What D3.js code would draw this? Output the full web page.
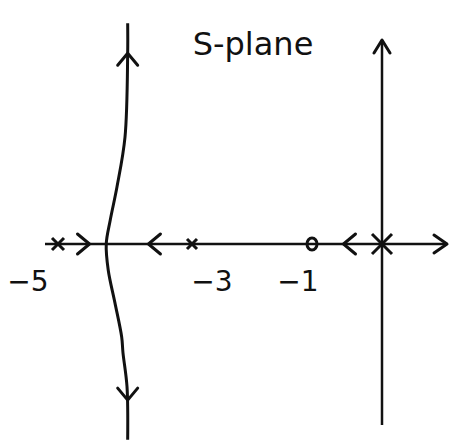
<!DOCTYPE html>
<html>
<head>
<meta charset="utf-8">
<script src="https://cdn.jsdelivr.net/npm/d3@7"></script>
<style>
  body { margin: 0; background: #fff; }
</style>
</head>
<body>
<script>
// sketch of a root locus in the s-plane

var width = 451, height = 445;

// poles, zeros and tick labels on the real axis
var poles = [-5, -3, 0];
var zeros = [-1];
var tickValues = [-5, -3, -1];
var tickLabels = ["\u22125", "\u22123", "\u22121"];

var branchSigma = [-3.96, -3.96, -4.0, -4.12, -4.22, -4.28, -4.25, -4.15, -4.05, -4.03, -3.97, -3.96];
var branchOmega = [3.45, 2.98, 1.67, 0.89, 0.375, 0, -0.41, -0.92, -1.45, -1.70, -2.23, -3.06];

// direction arrows: position and direction
var realArrowSigma = [-4.53, -3.65, -0.55];
var realArrowDir = [1, -1, -1];
var branchArrowOmega = [2.98, -2.44];
var branchArrowDir = [1, -1];

// hand-drawn sketch is not evenly spaced, so piecewise scale
var xScale = d3.scaleLinear()
    .domain([-5, -3, -1, 0])
    .range([58, 192, 312, 382]);

var yScale = d3.scaleLinear()
    .domain([-3, 3])
    .range([244 + 192, 244 - 192]);

var svg = d3.select("body").append("svg")
    .attr("width", width)
    .attr("height", height);

var ink = "#111";

// real axis
svg.append("line")
    .attr("x1", 45).attr("x2", 446)
    .attr("y1", yScale(0)).attr("y2", yScale(0))
    .style("stroke", ink).style("stroke-width", 2.5);

// imaginary axis
svg.append("line")
    .attr("x1", xScale(0)).attr("x2", xScale(0))
    .attr("y1", 425).attr("y2", 40)
    .style("stroke", ink).style("stroke-width", 2.5);

// chevron helper: tip at (x,y), dx/dy direction
function chevron(x, y, dx, dy, len, spread) {
    var bx = x - dx * len, by = y - dy * len;
    var px = -dy * spread, py = dx * spread;
    return "M" + (bx + px) + "," + (by + py) + "L" + x + "," + y + "L" + (bx - px) + "," + (by - py);
}

var arrows = svg.append("g").attr("id", "arrows")
    .style("fill", "none").style("stroke", ink)
    .style("stroke-width", 3).style("stroke-linecap", "round").style("stroke-linejoin", "round");

// axis arrowheads
arrows.append("path").attr("d", chevron(447, yScale(0), 1, 0, 13, 9));
arrows.append("path").attr("d", chevron(xScale(0), 40, 0, -1, 13, 8));

// arrows along the real axis
realArrowSigma.forEach(function(s, i) {
    arrows.append("path")
        .attr("d", chevron(xScale(s), yScale(0), realArrowDir[i], 0, 12, 10));
});

// locus branch
var branch = branchSigma.map(function(s, i) { return [s, branchOmega[i]]; });
var line = d3.line()
    .x(function(d) { return xScale(d[0]); })
    .y(function(d) { return yScale(d[1]); })
    .curve(d3.curveCatmullRom);

svg.append("path")
    .datum(branch)
    .attr("d", line)
    .style("fill", "none").style("stroke", ink).style("stroke-width", 3);

branchArrowOmega.forEach(function(w, i) {
    arrows.append("path")
        .attr("d", chevron(xScale(-3.96), yScale(w), 0, -branchArrowDir[i], 12, 10));
});

// poles as crosses, bigger at the origin
var marks = svg.append("g").attr("id", "marks")
    .style("stroke", ink).style("stroke-width", 3).style("fill", "none");

poles.forEach(function(p) {
    var r = p === 0 ? 10 : (p === -5 ? 6 : 5);
    var cx = xScale(p), cy = yScale(0);
    marks.append("path")
        .attr("d", "M" + (cx - r) + "," + (cy - r) + "L" + (cx + r) + "," + (cy + r) +
                   "M" + (cx - r) + "," + (cy + r) + "L" + (cx + r) + "," + (cy - r));
});

zeros.forEach(function(z) {
    marks.append("ellipse")
        .attr("cx", xScale(z)).attr("cy", yScale(0))
        .attr("rx", 5).attr("ry", 6);
});

// tick labels under the real axis
var labelX = [28, 212, 298];
svg.append("g").selectAll("text")
    .data(tickValues)
    .enter().append("text")
    .attr("x", function(d, i) { return labelX[i]; })
    .attr("y", 291)
    .attr("text-anchor", "middle")
    .style("font-family", "DejaVu Sans, sans-serif")
    .style("font-size", "28px")
    .style("fill", ink)
    .text(function(d, i) { return tickLabels[i]; });

// title
svg.append("text")
    .attr("x", 253).attr("y", 55)
    .attr("text-anchor", "middle")
    .style("font-family", "DejaVu Sans, sans-serif")
    .style("font-size", "32px")
    .style("fill", ink)
    .text("S-plane");
</script>
</body>
</html>
